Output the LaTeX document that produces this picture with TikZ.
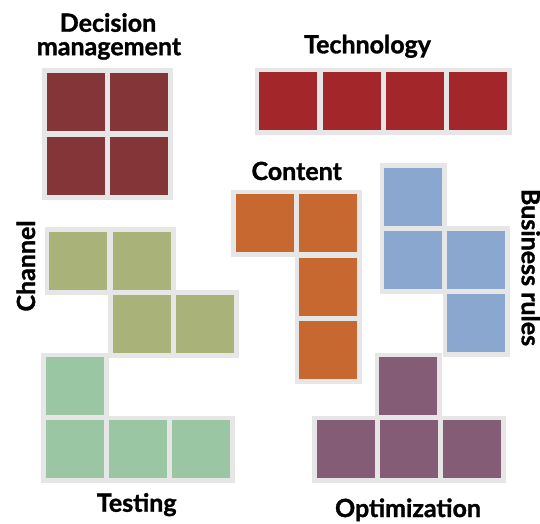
\documentclass[tikz,border=0pt]{standalone}
\usepackage{fontspec}
\setmainfont{Lato}
\newfontfamily\lblfont{Lato}[BoldFeatures={FakeBold=1.3}]
\definecolor{cdecision}{HTML}{843537}
\definecolor{ctech}{HTML}{A3262B}
\definecolor{ccontent}{HTML}{C76830}
\definecolor{cbusiness}{HTML}{8AA8CF}
\definecolor{cchannel}{HTML}{A8B279}
\definecolor{ctesting}{HTML}{9BC6A4}
\definecolor{coptim}{HTML}{845C76}
\definecolor{frame}{HTML}{E6E6E6}
\begin{document}
\begin{tikzpicture}[x=1pt,y=-1pt,
  cell/.style={minimum size=58pt,inner sep=0pt,outer sep=0pt,anchor=north west,
    fill=#1,preaction={draw=frame,line width=9.6pt,line join=miter}},
  lbl/.style={font=\lblfont\fontsize{25}{25}\selectfont\bfseries,inner sep=0pt,anchor=base}]
\useasboundingbox (0,0) rectangle (540,523);
% Decision management
\node[cell=cdecision] (d1) at (46.7,73) {};
\node[cell=cdecision] (d2) at (110,73) {};
\node[cell=cdecision] (d3) at (46.7,137) {};
\node[cell=cdecision] (d4) at (110,137) {};
% Technology
\node[cell=ctech] (t1) at (259.3,72.3) {};
\node[cell=ctech] (t2) at (322.5,72.3) {};
\node[cell=ctech] (t3) at (385.7,72.3) {};
\node[cell=ctech] (t4) at (449,72.3) {};
% Content
\node[cell=ccontent] (c1) at (236,194.3) {};
\node[cell=ccontent] (c2) at (299.3,194.3) {};
\node[cell=ccontent] (c3) at (299.3,257.7) {};
\node[cell=ccontent] (c4) at (299.3,320.7) {};
% Business rules
\node[cell=cbusiness] (b1) at (384.3,167.7) {};
\node[cell=cbusiness] (b2) at (384.3,231) {};
\node[cell=cbusiness] (b3) at (447.3,231) {};
\node[cell=cbusiness] (b4) at (447.3,294) {};
% Channel
\node[cell=cchannel] (h1) at (49.3,231.7) {};
\node[cell=cchannel] (h2) at (112.7,231.7) {};
\node[cell=cchannel] (h3) at (112.7,294.7) {};
\node[cell=cchannel] (h4) at (175.7,294.7) {};
% Testing
\node[cell=ctesting] (s1) at (45.7,357.3) {};
\node[cell=ctesting] (s2) at (45.7,420.3) {};
\node[cell=ctesting] (s3) at (109,420.3) {};
\node[cell=ctesting] (s4) at (171.7,420.3) {};
% Optimization
\node[cell=coptim] (o1) at (379.3,357.3) {};
\node[cell=coptim] (o2) at (316.7,420.3) {};
\node[cell=coptim] (o3) at (380,420.3) {};
\node[cell=coptim] (o4) at (443.3,420.3) {};
% Labels
\node[lbl] (ldec1) at (108,31.7) {Decision};
\node[lbl] (ldec2) at (109,55.2) {management};
\node[lbl] (ltech) at (367.5,53.3) {Technology};
\node[lbl] (lcont) at (296.7,180) {Content};
\node[lbl] (ltest) at (136.7,511.7) {Testing};
\node[lbl] (lopt) at (408,517) {Optimization};
\node[lbl,rotate=90] (lchan) at (35,266) {Channel};
\node[lbl,rotate=-90] (lbus) at (521.7,267.5) {Business rules};
\end{tikzpicture}
\end{document}
